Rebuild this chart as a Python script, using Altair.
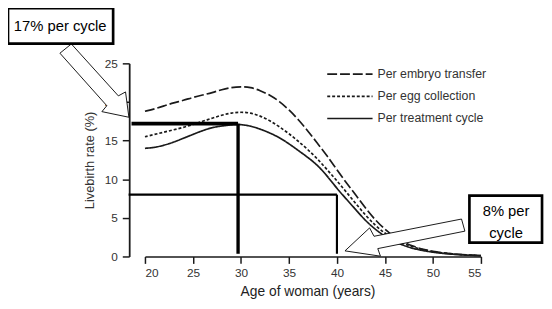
import altair as alt
import pandas as pd

ages = list(range(20, 56))
per_embryo_transfer = [18.8, 19.1, 19.5, 19.9, 20.2, 20.6, 20.9, 21.2, 21.6, 21.9,
                       22.0, 21.9, 21.5, 20.9, 20.1, 19.0, 17.7, 16.2, 14.6, 13.0,
                       11.2, 9.5, 7.9, 6.2, 4.7, 3.5, 2.5, 1.8, 1.3, 0.9,
                       0.65, 0.48, 0.35, 0.25, 0.17, 0.12]
per_egg_collection = [15.5, 15.8, 16.1, 16.4, 16.7, 17.1, 17.5, 17.9, 18.3, 18.6,
                      18.7, 18.6, 18.2, 17.6, 16.8, 15.9, 14.9, 13.8, 12.6, 11.2,
                      9.8, 8.3, 6.8, 5.3, 4.0, 3.0, 2.2, 1.6, 1.2, 0.85,
                      0.6, 0.45, 0.33, 0.23, 0.16, 0.1]
per_treatment_cycle = [14.0, 14.1, 14.4, 14.8, 15.3, 15.8, 16.3, 16.7, 16.9, 17.05,
                       17.1, 16.9, 16.5, 16.0, 15.4, 14.6, 13.7, 12.8, 11.8, 10.4,
                       8.8, 7.4, 6.0, 4.6, 3.5, 2.6, 1.9, 1.4, 1.0, 0.75,
                       0.55, 0.4, 0.3, 0.2, 0.15, 0.1]
series_names = ["Per embryo transfer", "Per egg collection", "Per treatment cycle"]
x_ticks = [20, 25, 30, 35, 40, 45, 50, 55]
y_ticks = [0, 5, 10, 15, 20, 25]

# reference lines (age start, age end, rate)
h_start = [18.6, 18.3]
h_end = [29.7, 40.0]
h_rate = [17.2, 8.0]
v_age = [29.7, 40.0]
v_bottom = [0.35, 0.35]
v_top = [17.2, 8.0]
callout_17 = "17% per cycle"
callout_8 = ["8% per", "cycle"]

FONT = "Liberation Sans"
INK = "#1a1a1a"
DASHES = [[10, 3], [3, 2], [1, 0]]

rows = []
for name, vals in zip(series_names, [per_embryo_transfer, per_egg_collection, per_treatment_cycle]):
    for a, v in zip(ages, vals):
        rows.append({"age": a, "rate": v, "series": name})
df = pd.DataFrame(rows)

x_scale = alt.Scale(domain=[20, 55], nice=False, zero=False)
y_scale = alt.Scale(domain=[0, 25], nice=False)
dash_scale = alt.Scale(domain=series_names, range=DASHES)

x_axis = alt.Axis(values=x_ticks, tickSize=7, tickWidth=1.5, domainWidth=1.6,
                  domainColor=INK, tickColor=INK, labelFontSize=12, labelColor="#333",
                  labelPadding=4, labelFont=FONT, labelOverlap=False,
                  title="Age of woman (years)", titleX=165,
                  titleFont=FONT, titleFontSize=14, titleFontWeight="normal",
                  titleColor="#222", titlePadding=7, grid=False)
y_axis = alt.Axis(values=y_ticks, offset=16, tickSize=7, tickWidth=1.5, domainWidth=1.8,
                  domainColor=INK, tickColor=INK, labelFontSize=12, labelColor="#333",
                  labelPadding=5, labelFont=FONT, labelOverlap=False,
                  title="Livebirth rate (%)",
                  titleFont=FONT, titleFontSize=13, titleFontWeight="normal",
                  titleColor="#333", titlePadding=8, grid=False)

curves = alt.Chart(df).mark_line(color=INK, strokeWidth=1.7, interpolate="basis").encode(
    x=alt.X("age:Q", scale=x_scale, axis=x_axis),
    y=alt.Y("rate:Q", scale=y_scale, axis=y_axis),
    strokeDash=alt.StrokeDash("series:N", scale=dash_scale, legend=None),
    detail="series:N",
)

hdf = pd.DataFrame({"age": h_start, "b": h_end, "rate": h_rate, "w": [3.6, 2.2]})
vdf = pd.DataFrame({"age": v_age, "rate": v_bottom, "r1": v_top, "w": [3.4, 2.2]})

hrules = alt.Chart(hdf).mark_rule(color="black").encode(
    x=alt.X("age:Q", scale=x_scale, axis=x_axis), x2="b:Q",
    y=alt.Y("rate:Q", scale=y_scale, axis=y_axis),
    strokeWidth=alt.StrokeWidth("w:Q", scale=None),
)
vrules = alt.Chart(vdf).mark_rule(color="black").encode(
    x=alt.X("age:Q", scale=x_scale, axis=x_axis),
    y=alt.Y("rate:Q", scale=y_scale, axis=y_axis), y2="r1:Q",
    strokeWidth=alt.StrokeWidth("w:Q", scale=None),
)

one = pd.DataFrame({"k": [0]})

# manual legend (one line + label per series)
legend_layers = []
for i, (name, dash) in enumerate(zip(series_names, DASHES)):
    ly = 11 + i * 22.5
    legend_layers.append(
        alt.Chart(one).mark_rule(color=INK, strokeWidth=1.7, strokeDash=dash).encode(
            x=alt.value(185), x2=alt.value(231), y=alt.value(ly)))
    legend_layers.append(
        alt.Chart(one).mark_text(text=name, align="left", baseline="middle", font=FONT,
                                 fontSize=12.5, color="#333").encode(
            x=alt.value(236), y=alt.value(ly)))

arrow1_path = "M-74.7,-19.7L-27,33L-19.7,29L-16.3,54.7L-43.7,49L-38.7,43L-86.3,-10.3Z"
arrow2_path = "M321.3,158L232.5,175.5L228,167L203,190.3L239,195.7L236.3,188L324.7,170.3Z"

arrow1 = alt.Chart(one).mark_point(shape=arrow1_path, size=4, filled=True, fill="white",
                                   stroke="black", strokeWidth=0.9, opacity=1).encode(
    x=alt.value(0), y=alt.value(0))
arrow2 = alt.Chart(one).mark_point(shape=arrow2_path, size=4, filled=True, fill="white",
                                   stroke="black", strokeWidth=0.9, opacity=1).encode(
    x=alt.value(0), y=alt.value(0))

box1 = alt.Chart(one).mark_rect(fill="white", stroke="black", strokeWidth=2.7).encode(
    x=alt.value(-139), x2=alt.value(-32.3), y=alt.value(-56), y2=alt.value(-20))
box2 = alt.Chart(one).mark_rect(fill="white", stroke="black", strokeWidth=2.7).encode(
    x=alt.value(329.3), x2=alt.value(403), y=alt.value(134.3), y2=alt.value(182))

txt1 = alt.Chart(one).mark_text(text=callout_17, font=FONT, fontSize=15, color="black",
                                align="center", baseline="alphabetic").encode(
    x=alt.value(-86), y=alt.value(-32.7))
txt2a = alt.Chart(one).mark_text(text=callout_8[0], font=FONT, fontSize=15, color="black",
                                 align="center", baseline="alphabetic").encode(
    x=alt.value(366.5), y=alt.value(155))
txt2b = alt.Chart(one).mark_text(text=callout_8[1], font=FONT, fontSize=15, color="black",
                                 align="center", baseline="alphabetic").encode(
    x=alt.value(366.5), y=alt.value(177))

chart = alt.layer(
    curves, hrules, vrules, *legend_layers, arrow1, arrow2, box1, box2, txt1, txt2a, txt2b
).properties(
    width=341, height=196,
    autosize=alt.AutoSizeParams(type="none"),
    padding={"left": 139, "top": 54, "right": 64, "bottom": 43},
).configure_view(stroke=None)

chart.save("out.html", embed_options={"renderer": "svg", "actions": False})
